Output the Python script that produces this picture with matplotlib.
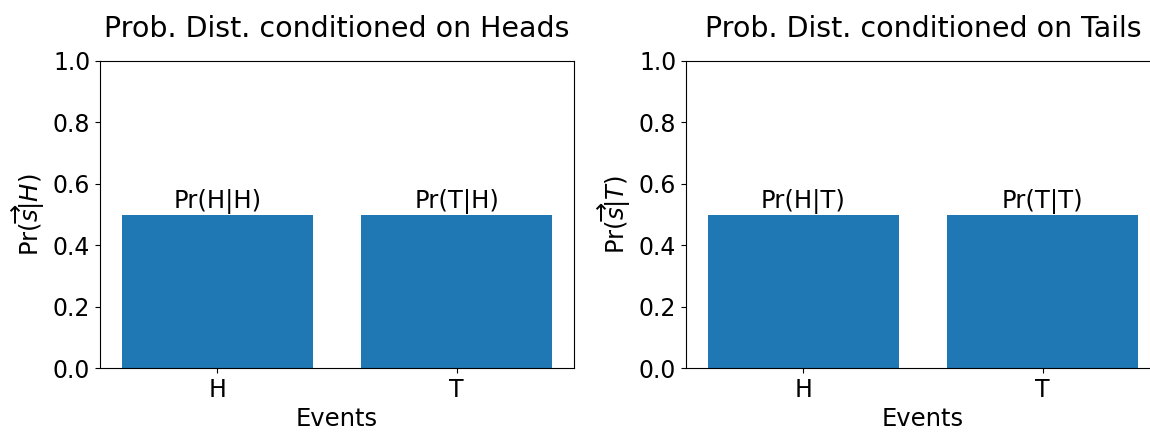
import matplotlib
matplotlib.use("Agg")
import matplotlib.pyplot as plt

events = ["H", "T"]
probs_heads = [0.5, 0.5]
probs_tails = [0.5, 0.5]
labels_heads = ["Pr(H|H)", "Pr(T|H)"]
labels_tails = ["Pr(H|T)", "Pr(T|T)"]

fig = plt.figure(figsize=(11.5, 4.32), dpi=100)
ax1 = fig.add_axes([100/1150, 1-368/432, 474/1150, 307/432])
ax2 = fig.add_axes([686/1150, 1-368/432, 474/1150, 307/432])

panels = [
    (ax1, probs_heads, labels_heads, "Prob. Dist. conditioned on Heads", r"Pr($\overrightarrow{s}|H$)"),
    (ax2, probs_tails, labels_tails, "Prob. Dist. conditioned on Tails", r"Pr($\overrightarrow{s}|T$)"),
]

for ax, probs, labs, title, ylab in panels:
    bars = ax.bar(events, probs, color="#1f77b4")
    for b, l in zip(bars, labs):
        ax.text(b.get_x() + b.get_width()/2, b.get_height(), l,
                ha="center", va="bottom", fontsize=17.5)
    ax.set_ylim(0, 1)
    ax.set_title(title, fontsize=20.5, pad=17)
    ax.set_xlabel("Events", fontsize=17.5)
    ax.set_ylabel(ylab, fontsize=17.5)
    ax.tick_params(labelsize=17)

fig.savefig("out.png", dpi=100)
